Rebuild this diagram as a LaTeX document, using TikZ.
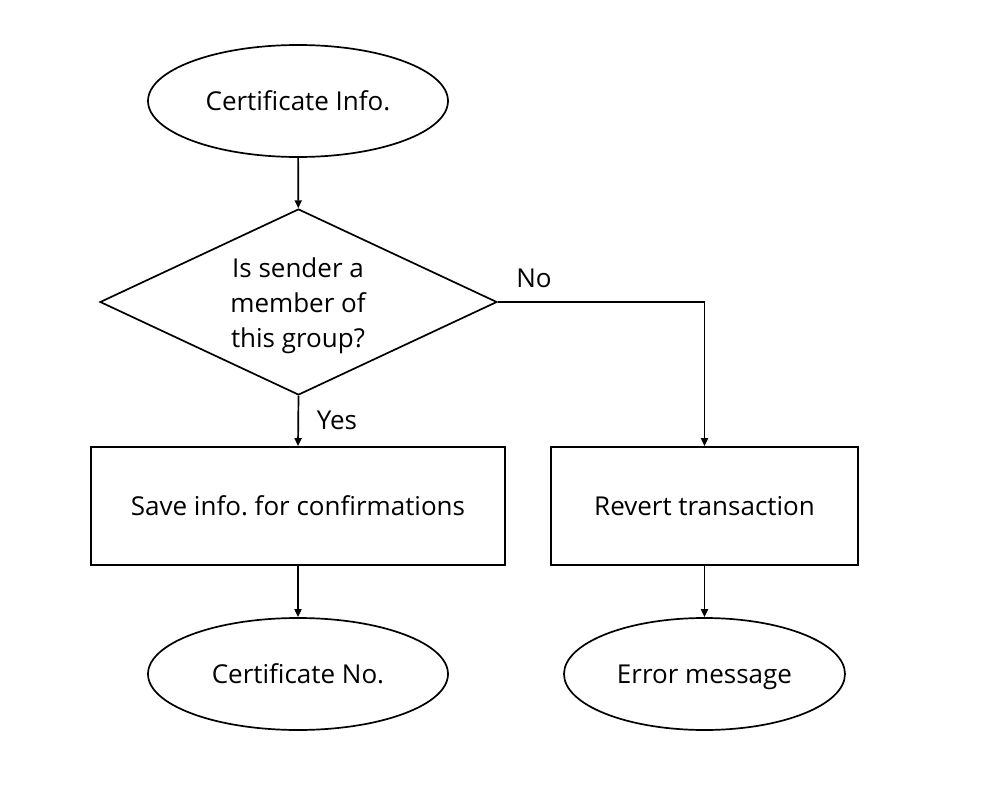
\documentclass[tikz,border=0pt]{standalone}
\usepackage{fontspec}
\setmainfont{Open Sans}
\usetikzlibrary{shapes.geometric,arrows.meta}
\begin{document}
\frenchspacing
\begin{tikzpicture}[x=1pt,y=-1pt,
  every node/.style={font=\fontsize{26}{35}\selectfont},
  term/.style={draw,line width=1.7pt,ellipse,minimum width=#1,minimum height=112pt,inner sep=0pt,text height=22pt,text depth=4pt},
  proc/.style={draw,line width=1.7pt,rectangle,minimum height=118pt,inner sep=0pt,text height=22pt,text depth=4pt},
  flow/.style={line width=1.7pt,-{Triangle[length=8pt,width=7pt]}},
  lbl/.style={inner sep=0pt}]
\useasboundingbox (0,0) rectangle (989,795);
\node[term=300pt] (start) at (298,101) {Certificate Info.};
\node[draw,line width=1.7pt,diamond,aspect=2.134,minimum width=397pt,minimum height=186pt,inner sep=0pt] (dec) at (298.5,302) {};
\node[align=center,lbl] (dectext) at (298,306) {Is sender a\\member of\\this group?};
\node[proc,minimum width=414pt] (save) at (298,506) {Save info. for confirmations};
\node[proc,minimum width=307pt] (revert) at (704.5,506) {Revert transaction};
\node[term=300pt] (cno) at (298,674) {Certificate No.};
\node[term=281pt] (err) at (704.5,674) {Error message};
\coordinate (corner) at (704.5,302);
\draw[flow] (start) -- (dec);
\draw[flow] (dec.south) -- (save.north);
\draw[line width=1.7pt] (dec.east) -- (corner);
\draw[flow] (corner) -- (revert.north);
\draw[flow] (save) -- (cno);
\draw[flow] (revert) -- (err);
\node[lbl] (yes) at (337,420) {Yes};
\node[lbl] (no) at (534,278) {No};
\end{tikzpicture}
\end{document}
